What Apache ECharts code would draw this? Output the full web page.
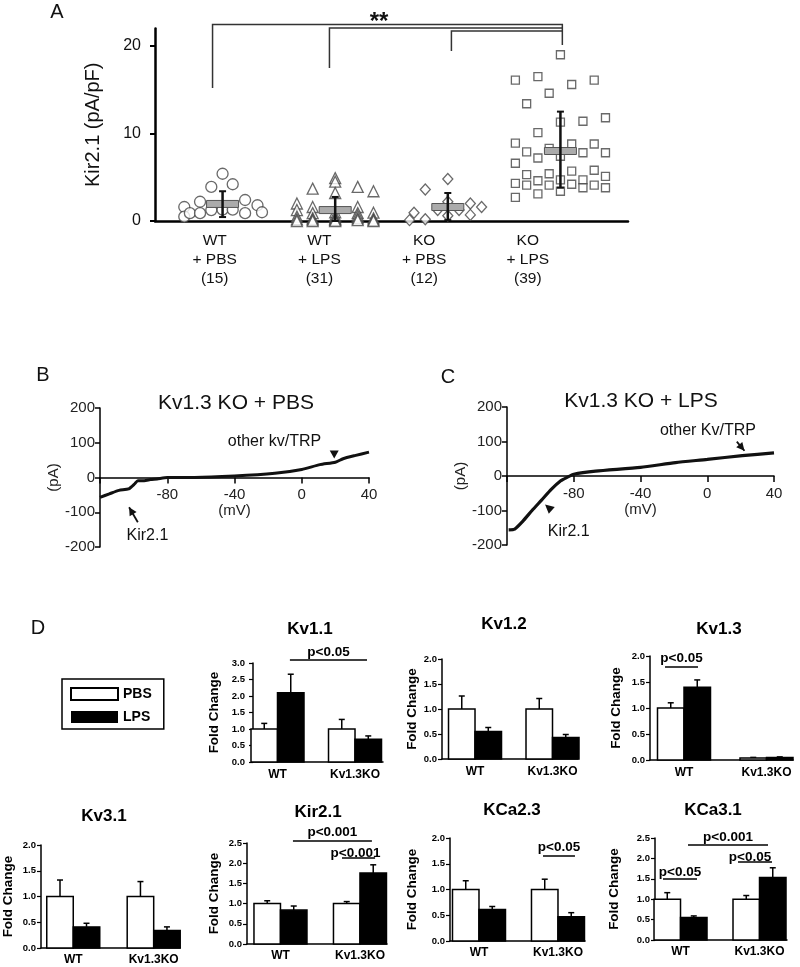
<!DOCTYPE html>
<html><head><meta charset="utf-8">
<script src="https://cdn.jsdelivr.net/npm/echarts@6/dist/echarts.min.js"></script>
<style>html,body{margin:0;padding:0;background:#fff}#c{width:800px;height:967px}</style>
</head><body><div id="c"></div><script>
const FONT = '"Liberation Sans", Arial, Helvetica, sans-serif';

// ---------- Panel A data ----------
const groupNames = ['WT\n+ PBS\n(15)', 'WT\n+ LPS\n(31)', 'KO\n+ PBS\n(12)', 'KO\n+ LPS\n(39)'];
const groupLabelPos = [0.93, 1.86, 2.79, 3.71];
const yTicksA = [0, 10, 20];
// [column offset within group, pA/pF]
const wtPbsPts = [[-0.34,1.6],[-0.34,0.5],[-0.29,0.9],[-0.2,2.2],[-0.2,0.9],[-0.1,3.9],[-0.1,1.25],[0,5.4],[0,1.3],[0.09,4.2],[0.09,1.3],[0.2,2.4],[0.2,0.9],[0.31,1.8],[0.35,1.0]];
const wtLpsPts = [[-0.34,2.0],[-0.34,1.25],[-0.34,0.5],[-0.34,0.2],[-0.34,0.0],
  [-0.2,3.7],[-0.2,1.6],[-0.2,0.9],[-0.2,0.3],[-0.2,0.15],[-0.2,0.0],
  [0,4.9],[0,4.5],[0,3.2],[0,1.0],[0,0.6],[0,0.3],[0,0.2],[0,0.1],[0,0.0],
  [0.2,3.9],[0.2,1.6],[0.2,0.9],[0.2,0.6],[0.2,0.3],[0.2,0.1],
  [0.34,3.4],[0.34,0.95],[0.34,0.3],[0.34,0.1],[0.34,0.0]];
const koPbsPts = [[-0.34,0.1],[-0.3,0.95],[-0.2,3.6],[-0.2,0.2],[-0.09,1.25],[0,4.8],[0,2.2],[0,0.6],[0.1,1.25],[0.2,2.0],[0.2,0.7],[0.3,1.6]];
const koLpsPts = [
  [0,19.0],[-0.4,16.1],[-0.2,16.5],[0.1,15.6],[0.3,16.1],[-0.1,14.6],[-0.3,13.4],
  [0,11.3],[0.2,11.4],[0.4,11.8],[-0.2,10.1],[-0.4,8.9],[-0.3,7.9],[-0.2,7.2],[-0.1,8.3],[0,7.4],[0.1,8.8],[0.2,7.8],[0.3,8.8],[0.4,7.8],
  [-0.4,6.6],[-0.3,5.3],[-0.1,5.4],[0.1,5.7],[0.3,5.8],[0.4,5.1],
  [-0.4,4.3],[-0.3,4.1],[-0.2,4.6],[-0.1,4.1],[0,4.7],[0.1,4.2],[0.2,4.7],[0.2,3.8],[0.3,4.1],[0.4,3.8],
  [-0.4,2.7],[-0.2,3.1],[0,3.4]];
const groupMean = [1.95, 1.25, 1.6, 8.0];
const groupLow  = [0.45, 0.0, 0.1, 3.8];
const groupHigh = [3.4, 2.75, 3.2, 12.5];
// significance brackets (group units / pA/pF)
const brFrom = [0.911, 1.949, 3.032];
const brTo = 4.017;
const brTop = [22.46, 22.06, 21.71];
const brDrop = [15.2, 17.49, 19.43];
const brRightDrop = 20.11;
const starPos = [2.39, 22.46];

// ---------- Panels B / C data (mV, pA) ----------
const ivPbsMv = [-120,-114.4,-108.7,-103,-99.3,-97.5,-93.7,-90,-86,-80,-63.7,-40,-16,0,10.8,20,24.6,31.5,40];
const ivPbsPa = [-57,-47,-37,-33,-18,-9,-9,-6,-4,0,0,4,12,23,37,44,54,63,73];
const ivLpsMv = [-119,-115.4,-110.7,-105,-99.3,-93.5,-87.8,-84,-80,-66.9,-40,-19,0,21,40];
const ivLpsPa = [-156,-154,-132,-100,-70,-39,-14,-4,5,14,25,39,48,59,67];

// ---------- Panel D data ----------
const dGroups = ['WT', 'Kv1.3KO'];
const geneNames = ['Kv1.1','Kv1.2','Kv1.3','Kv3.1','Kir2.1','KCa2.3','KCa3.1'];
const pbsFold   = [[1.0,1.0],[1.0,1.0],[1.0,0.04],[1.0,1.0],[1.0,1.0],[1.0,1.0],[1.0,1.0]];
const pbsErrTop = [[1.17,1.29],[1.26,1.21],[1.10,0.05],[1.32,1.29],[1.07,1.05],[1.17,1.20],[1.16,1.09]];
const lpsFold   = [[2.10,0.69],[0.55,0.43],[1.40,0.05],[0.41,0.34],[0.84,1.76],[0.61,0.47],[0.55,1.53]];
const lpsErrTop = [[2.66,0.79],[0.63,0.49],[1.54,0.06],[0.48,0.41],[0.94,1.96],[0.67,0.55],[0.59,1.77]];
const yMaxD = [3.0,2.0,2.0,2.0,2.5,2.0,2.5];
const sigPanel = [0,2,4,4,5,6,6,6];
const sigX1 = [1.16,0.77,1.157,1.774,1.81,1.095,1.728,0.778];
const sigX2 = [2.155,1.17,2.15,2.19,2.215,2.108,2.158,1.209];
const sigY  = [3.09,1.79,2.55,2.13,1.65,2.33,1.91,1.495];
const sigText = ['p<0.05','p<0.05','p<0.001','p<0.001','p<0.05','p<0.001','p<0.05','p<0.05'];

// ---------- layout ----------
const dPanels = [
  {l:253, r:383, y0:762, top:663, xMin:0.684, xMax:2.361, nameCx:214, title:[310,629], lm:8},
  {l:442, r:578, y0:759, top:659, xMin:0.574, xMax:2.329, nameCx:412, title:[504,624], lm:5},
  {l:650, r:793, y0:760, top:656, xMin:0.588, xMax:2.321, nameCx:616, title:[719,629], lm:5},
  {l:40,  r:180, y0:948, top:845, xMin:0.599, xMax:2.327, nameCx:7,   title:[104,816], lm:5},
  {l:247, r:387, y0:944, top:843, xMin:0.579, xMax:2.340, nameCx:214, title:[318,812], lm:5},
  {l:450, r:585, y0:941, top:838, xMin:0.633, xMax:2.342, nameCx:412, title:[512,810], lm:5},
  {l:655, r:787, y0:940, top:838, xMin:0.677, xMax:2.348, nameCx:614, title:[713,810], lm:5}
];
const sigTextDx = [0,0,0,-3,0,0,-5,0];
const sigTextDy = [-8,-9,-9,-5,-9,-8,-5,-7];
const ivGrids = [{left:100, top:408, width:269, height:139}, {left:507, top:407, width:267, height:138}];

function nearestIdx(arr, v){ let b=0; arr.forEach((a,i)=>{ if(Math.abs(a-v)<Math.abs(arr[b]-v)) b=i; }); return b; }

const chart = echarts.init(document.getElementById('c'));
const grids=[], xAxes=[], yAxes=[], series=[];

// ---- A ----
grids.push({left:155, top:28.5, width:473, height:192.5});
xAxes.push({gridIndex:0, type:'value', min:0.4, max:4.6, splitLine:{show:false}, axisTick:{show:false},
  axisLine:{onZero:false, lineStyle:{color:'#000', width:2.5}},
  axisLabel:{customValues:groupLabelPos, formatter:v=>groupNames[nearestIdx(groupLabelPos,v)], fontSize:15.5, lineHeight:19, color:'#111', margin:10, fontFamily:FONT}});
yAxes.push({gridIndex:0, type:'value', min:0, max:22, splitLine:{show:false},
  axisLine:{show:true, onZero:false, lineStyle:{color:'#000', width:2.5}},
  axisTick:{show:true, customValues:yTicksA, length:5, lineStyle:{color:'#000', width:2}},
  axisLabel:{customValues:yTicksA, fontSize:16, color:'#111', margin:14, fontFamily:FONT},
  name:'Kir2.1 (pA/pF)', nameLocation:'middle', nameGap:52, nameTextStyle:{fontSize:20, color:'#111', fontFamily:FONT}});
const ptsByGroup=[wtPbsPts, wtLpsPts, koPbsPts, koLpsPts];
const syms=['circle','triangle','diamond','rect'];
const symSizes=[11,11,[10,11],8];
ptsByGroup.forEach((pts,i)=>series.push({type:'scatter', name:'g'+i, xAxisIndex:0, yAxisIndex:0, symbol:syms[i], symbolSize:symSizes[i],
  clip:false, z:2, data:pts.map(p=>[i+1+p[0], p[1]]), itemStyle:{color:'#fff', borderColor:'#444', borderWidth:1.3}}));
series.push({type:'custom', name:'mean', xAxisIndex:0, yAxisIndex:0, z:5, clip:false,
  data:groupMean.map((m,i)=>[i+1,m,groupLow[i],groupHigh[i]]),
  renderItem:(p,api)=>{
    const pm=api.coord([api.value(0),api.value(1)]), pl=api.coord([api.value(0),api.value(2)]), ph=api.coord([api.value(0),api.value(3)]);
    return {type:'group', children:[
      {type:'rect', shape:{x:pm[0]-16, y:pm[1]-3.5, width:32, height:7}, style:{fill:'#ababab', stroke:'#555', lineWidth:1}},
      {type:'line', shape:{x1:pm[0], y1:pl[1], x2:pm[0], y2:ph[1]}, style:{stroke:'#111', lineWidth:2.5}},
      {type:'line', shape:{x1:pm[0]-3.5, y1:ph[1], x2:pm[0]+3.5, y2:ph[1]}, style:{stroke:'#111', lineWidth:2}},
      {type:'line', shape:{x1:pm[0]-3.5, y1:pl[1], x2:pm[0]+3.5, y2:pl[1]}, style:{stroke:'#111', lineWidth:2}}
    ]};
  }});

// ---- B, C ----
ivGrids.forEach((g,j)=>{
  const gi=j+1;
  grids.push(g);
  // the zero current line sits at the middle of the symmetric -200..200 range
  xAxes.push({gridIndex:gi, type:'value', min:-120, max:40, interval:40, splitLine:{show:false},
    offset:-g.height/2,
    axisLine:{onZero:false, lineStyle:{color:'#000', width:1.5}},
    axisTick:{show:true, length:6, lineStyle:{color:'#000', width:1.5}},
    axisLabel:{fontSize:15, color:'#222', margin:10, fontFamily:FONT, formatter:v=>v===-120?'':String(v)},
    name:'(mV)', nameLocation:'middle', nameGap:25, nameTextStyle:{fontSize:15, color:'#222', fontFamily:FONT}});
  yAxes.push({gridIndex:gi, type:'value', min:-200, max:200, interval:100, splitLine:{show:false},
    axisLine:{show:true, onZero:false, lineStyle:{color:'#000', width:1.5}},
    axisTick:{show:true, length:5, lineStyle:{color:'#000', width:1.5}},
    axisLabel:{fontSize:15, color:'#222', margin:5, fontFamily:FONT},
    name:'(pA)', nameLocation:'middle', nameGap:33, nameTextStyle:{fontSize:15, color:'#222', fontFamily:FONT}});
});
series.push({type:'line', name:'ivPbs', xAxisIndex:1, yAxisIndex:1, showSymbol:false, smooth:0.2,
  data:ivPbsMv.map((v,i)=>[v,ivPbsPa[i]]), lineStyle:{color:'#111', width:3}});
series.push({type:'line', name:'ivLps', xAxisIndex:2, yAxisIndex:2, showSymbol:false, smooth:0.2,
  data:ivLpsMv.map((v,i)=>[v,ivLpsPa[i]]), lineStyle:{color:'#111', width:3.2}});

// ---- D ----
function barRender(side){
  return (p,api)=>{
    const x=api.value(0), v=api.value(1), e=api.value(2);
    const t=api.coord([x,v]), b=api.coord([x,0]), et=api.coord([x,e]);
    const W=26.5, x0 = side<0 ? t[0]-W : t[0], cx=x0+W/2;
    return {type:'group', children:[
      {type:'line', shape:{x1:cx, y1:t[1], x2:cx, y2:et[1]}, style:{stroke:'#000', lineWidth:1.5}},
      {type:'line', shape:{x1:cx-3, y1:et[1], x2:cx+3, y2:et[1]}, style:{stroke:'#000', lineWidth:1.5}},
      {type:'rect', shape:{x:x0, y:t[1], width:W, height:Math.max(b[1]-t[1],0.5)}, style:{fill:side<0?'#fff':'#000', stroke:'#000', lineWidth:1.5}}
    ]};
  };
}
dPanels.forEach((d,k)=>{
  const gi=3+k;
  grids.push({left:d.l, top:d.top, width:d.r-d.l, height:d.y0-d.top});
  xAxes.push({gridIndex:gi, type:'value', min:d.xMin, max:d.xMax, splitLine:{show:false}, axisTick:{show:false},
    axisLine:{onZero:false, lineStyle:{color:'#000', width:1.5}},
    axisLabel:{customValues:[1,2], formatter:v=>dGroups[Math.round(v)-1], fontSize:12, fontWeight:'bold', color:'#000', margin:k<3?7:6, fontFamily:FONT}});
  yAxes.push({gridIndex:gi, type:'value', min:0, max:yMaxD[k], interval:0.5, splitLine:{show:false},
    axisLine:{show:true, onZero:false, lineStyle:{color:'#000', width:1.5}},
    axisTick:{show:true, length:4, lineStyle:{color:'#000', width:1.2}},
    axisLabel:{formatter:v=>v.toFixed(1), fontSize:9.5, fontWeight:'bold', color:'#000', margin:d.lm, fontFamily:FONT},
    name:'Fold Change', nameLocation:'middle', nameGap:d.l-d.nameCx-7, nameTextStyle:{fontSize:13.5, fontWeight:'bold', color:'#000', fontFamily:FONT}});
  series.push({type:'custom', name:'PBS', xAxisIndex:gi, yAxisIndex:gi, clip:false, itemStyle:{color:'#fff'},
    data:[[1,pbsFold[k][0],pbsErrTop[k][0]],[2,pbsFold[k][1],pbsErrTop[k][1]]], renderItem:barRender(-1)});
  series.push({type:'custom', name:'LPS', xAxisIndex:gi, yAxisIndex:gi, clip:false, itemStyle:{color:'#000'},
    data:[[1,lpsFold[k][0],lpsErrTop[k][0]],[2,lpsFold[k][1],lpsErrTop[k][1]]], renderItem:barRender(1)});
});

chart.setOption({
  animation:false, backgroundColor:'#fff', textStyle:{fontFamily:FONT},
  grid:grids, xAxis:xAxes, yAxis:yAxes, series:series,
  legend:{left:62, top:679, orient:'vertical', padding:[8,12,5,8], itemGap:9, itemWidth:47, itemHeight:12,
    borderColor:'#000', borderWidth:1.5, selectedMode:false,
    textStyle:{fontFamily:FONT, fontWeight:'bold', fontSize:14, color:'#000'},
    data:[{name:'PBS', icon:'rect', itemStyle:{color:'#fff', borderColor:'#000', borderWidth:2}},
          {name:'LPS', icon:'rect', itemStyle:{color:'#000', borderColor:'#000', borderWidth:0}}]}
});

// ---------- annotations ----------
const G=[];
const px=(gi,v)=>chart.convertToPixel({gridIndex:gi}, v);
function txt(x,y,text,size,extra){ G.push({type:'text', x, y, silent:true, z:10,
  style:Object.assign({text, fontSize:size, fontFamily:FONT, fill:'#111', align:'center', verticalAlign:'middle'}, extra||{})}); }
function pline(points,w,color){ G.push({type:'polyline', silent:true, z:10, shape:{points}, style:{stroke:color||'#222', lineWidth:w||1.5, fill:'none'}}); }
function poly(points){ G.push({type:'polygon', silent:true, z:10, shape:{points}, style:{fill:'#111'}}); }
function arrowHead(tail, tip, len, half){
  const dx=tip[0]-tail[0], dy=tip[1]-tail[1], L=Math.hypot(dx,dy)||1, ux=dx/L, uy=dy/L;
  poly([tip,[tip[0]-ux*len-uy*half, tip[1]-uy*len+ux*half],[tip[0]-ux*len+uy*half, tip[1]-uy*len-ux*half]]);
}
// panel letters & titles
txt(57,12,'A',20); txt(43,375,'B',20); txt(448,377,'C',20); txt(38,628,'D',20);
txt(236,403,'Kv1.3 KO + PBS',21); txt(641,401,'Kv1.3 KO + LPS',21);
dPanels.forEach((d,k)=>txt(d.title[0], d.title[1], geneNames[k], 17, {fontWeight:'bold', fill:'#000'}));
// A brackets
brFrom.forEach((f,i)=>{
  const pts=[px(0,[f,brDrop[i]]), px(0,[f,brTop[i]]), px(0,[brTo,brTop[i]])];
  if(i===0) pts.push(px(0,[brTo,brRightDrop]));
  pline(pts,1.5,'#333');
});
{ const s=px(0,starPos); txt(s[0], s[1]-2, '**', 24, {fontWeight:'bold'}); }
// B annotations
{ const t=px(1,[-16.2,103.6]); txt(t[0],t[1],'other kv/TRP',16);
  const tip=px(1,[19.3,55]); arrowHead([tip[0],tip[1]-10], tip, 8, 4.5);
  const k=px(1,[-91.8,-167]); txt(k[0],k[1],'Kir2.1',16);
  const a1=px(1,[-97.5,-128.6]), a2=px(1,[-102.7,-85.5]); pline([a1,a2],1.8,'#111'); arrowHead(a1,a2,8,4); }
// C annotations
{ const t=px(2,[0.4,133]); txt(t[0],t[1],'other Kv/TRP',16);
  const a1=px(2,[17.7,99.4]), a2=px(2,[22.3,73.3]); pline([a1,a2],1.8,'#111'); arrowHead(a1,a2,8,4);
  const k=px(2,[-83,-161]); txt(k[0],k[1],'Kir2.1',16);
  const c=px(2,[-95.4,-91]); arrowHead([c[0]+6,c[1]+5],[c[0]-3,c[1]-3],9,4.5); }
// D significance
sigPanel.forEach((k,i)=>{
  const gi=3+k, a=px(gi,[sigX1[i],sigY[i]]), b=px(gi,[sigX2[i],sigY[i]]);
  pline([a,b],1.5,'#000');
  txt((a[0]+b[0])/2+sigTextDx[i], a[1]+sigTextDy[i], sigText[i], 13.5, {fontWeight:'bold', fill:'#000'});
});
chart.setOption({graphic:G});
</script></body></html>
